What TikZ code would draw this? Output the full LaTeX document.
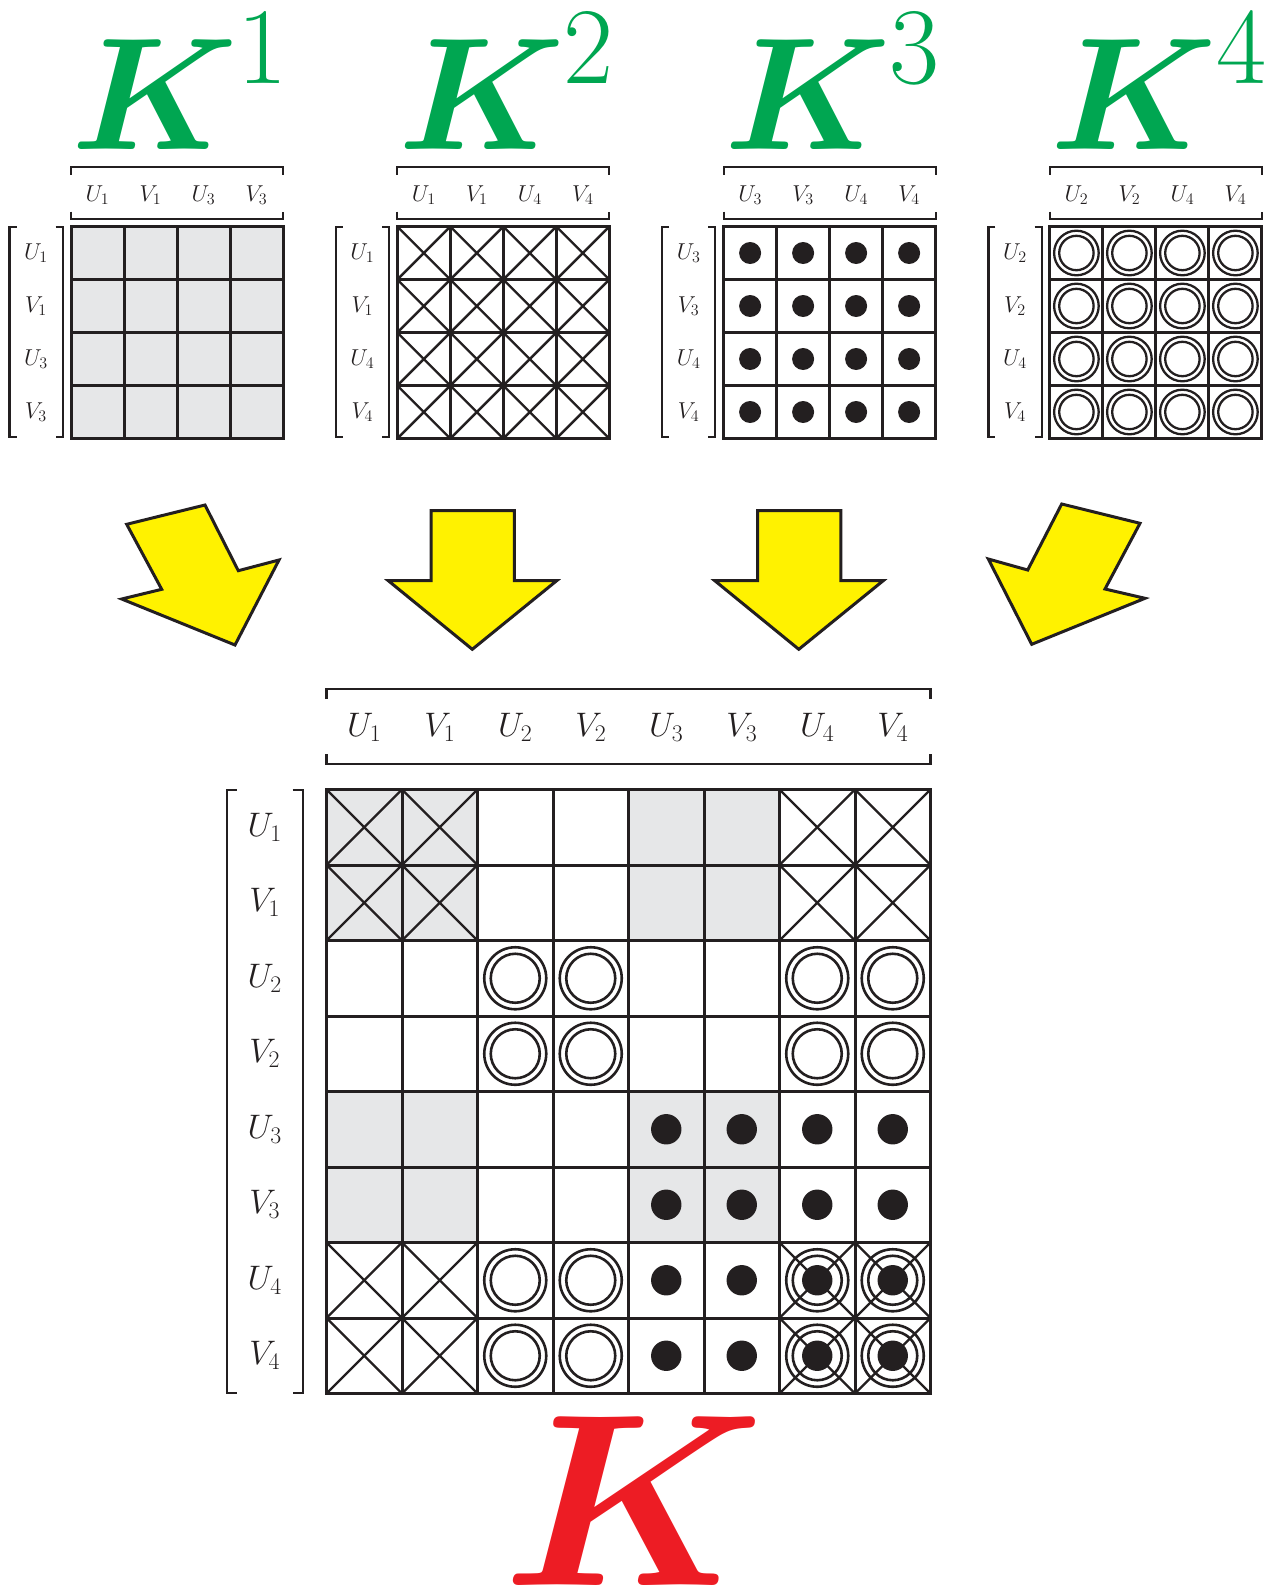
\RequirePackage{fix-cm}
\documentclass[tikz,border=0pt]{standalone}
\usepackage{amsmath}
\usepackage{bm}
\definecolor{kgreen}{RGB}{0,166,81}
\definecolor{kred}{RGB}{237,28,36}
\definecolor{kyellow}{RGB}{255,242,0}
\definecolor{kgray}{RGB}{230,231,232}
\definecolor{kblack}{RGB}{35,31,32}
\tikzset{
  gridline/.style={line width=3pt, draw=kblack, line cap=rect},
  xline/.style={line width=2.4pt, draw=kblack},
  ringline/.style={line width=2.6pt, draw=kblack},
  sringline/.style={line width=2.3pt, draw=kblack},
  dotfill/.style={fill=kblack},
  brak/.style={line width=2.2pt, draw=kblack},
  slab/.style={inner sep=0pt, text=kblack, font=\fontsize{23}{23}\selectfont},
  blab/.style={inner sep=0pt, text=kblack, font=\fontsize{34}{34}\selectfont},
  yarrow/.style={fill=kyellow, draw=kblack, line width=3pt, line join=miter},
  heading/.style={inner sep=0pt, text=kgreen, font=\fontsize{160}{160}\selectfont},
}
\newcommand\kheading[1]{$\boldsymbol{K}$\kern -1pt\raisebox{66pt}{\fontsize{109}{109}\selectfont #1}}
\begin{document}
\begin{tikzpicture}[x=1pt,y=-1pt]
\useasboundingbox (0,0) rectangle (1270,1596);

% ---------- small matrices ----------
\foreach \k/\la/\lb/\lc/\ld in {1/U_1/V_1/U_3/V_3, 2/U_1/V_1/U_4/V_4, 3/U_3/V_3/U_4/V_4, 4/U_2/V_2/U_4/V_4}{
  \pgfmathsetmacro\L{71+326.3*(\k-1)}
  % content
  \ifcase\k\or
    \fill[kgray] (\L,226.5) rectangle ++(212,212);
  \or
    \foreach \i in {0,...,3}{\foreach \j in {0,...,3}{
      \draw[xline] (\L+\j*53,226.5+\i*53) -- ++(53,53);
      \draw[xline] (\L+\j*53+53,226.5+\i*53) -- ++(-53,53);
    }}
  \or
    \foreach \i in {0,...,3}{\foreach \j in {0,...,3}{
      \fill[dotfill] (\L+\j*53+26.5,226.5+\i*53+26.5) circle[radius=11pt];
    }}
  \or
    \foreach \i in {0,...,3}{\foreach \j in {0,...,3}{
      \draw[sringline] (\L+\j*53+26.5,226.5+\i*53+26.5) circle[radius=22.3pt];
      \draw[sringline] (\L+\j*53+26.5,226.5+\i*53+26.5) circle[radius=17.2pt];
    }}
  \fi
  % grid
  \foreach \t in {0,...,4}{
    \draw[gridline] (\L+\t*53,226.5) -- (\L+\t*53,438.5);
    \draw[gridline] (\L,226.5+\t*53) -- (\L+212,226.5+\t*53);
  }
  % column bracket
  \draw[brak] (\L,174.5) -- (\L,166.7) -- (\L+212,166.7) -- (\L+212,174.5);
  \draw[brak] (\L,211.5) -- (\L,219.3) -- (\L+212,219.3) -- (\L+212,211.5);
  % row bracket
  \draw[brak] (\L-54.5,226.7) -- (\L-61.5,226.7) -- (\L-61.5,436.7) -- (\L-54.5,436.7);
  \draw[brak] (\L-15.3,226.7) -- (\L-8.3,226.7) -- (\L-8.3,436.7) -- (\L-15.3,436.7);
  % labels
  \node[slab] (k\k-c1) at (\L+26.5,195) {$\la$};
  \node[slab] (k\k-c2) at (\L+79.5,195) {$\lb$};
  \node[slab] (k\k-c3) at (\L+132.5,195) {$\lc$};
  \node[slab] (k\k-c4) at (\L+185.5,195) {$\ld$};
  \node[slab] (k\k-r1) at (\L-35,253) {$\la$};
  \node[slab] (k\k-r2) at (\L-35,306) {$\lb$};
  \node[slab] (k\k-r3) at (\L-35,359) {$\lc$};
  \node[slab] (k\k-r4) at (\L-35,412) {$\ld$};
  % heading
  \node[heading, anchor=base west] (h\k) at (\L+0.5,149) {\kheading{\k}};
}

% ---------- arrows ----------
\draw[yarrow] (126.7,524.3) -- (205,505) -- (238.3,570.7) -- (279,560) -- (235,645) -- (121.7,599) -- (161.7,589.3) -- cycle;
\draw[yarrow] (431,510.7) -- (514.3,510.7) -- (514.3,580.7) -- (556.7,580.7) -- (472.3,649.3) -- (388.3,580.7) -- (431,580.7) -- cycle;
\draw[yarrow] (757.5,510.7) -- (840.8,510.7) -- (840.8,580.7) -- (883.2,580.7) -- (798.8,649.3) -- (714.8,580.7) -- (757.5,580.7) -- cycle;
\draw[yarrow] (1061.7,504) -- (1140,523.3) -- (1105,589) -- (1145,598.3) -- (1031.7,644.3) -- (988.3,559) -- (1027.7,570) -- cycle;

% ---------- big matrix ----------
\def\BL{326.5}\def\BT{789.5}\def\BC{75.5}
\foreach \i in {1,2,5,6}{\foreach \j in {1,2,5,6}{
  \fill[kgray] (\BL+\j*\BC-\BC,\BT+\i*\BC-\BC) rectangle ++(\BC,\BC);
}}
\foreach \i in {1,2,7,8}{\foreach \j in {1,2,7,8}{
  \draw[xline] (\BL+\j*\BC-\BC,\BT+\i*\BC-\BC) -- ++(\BC,\BC);
  \draw[xline] (\BL+\j*\BC,\BT+\i*\BC-\BC) -- ++(-\BC,\BC);
}}
\foreach \i in {3,4,7,8}{\foreach \j in {3,4,7,8}{
  \draw[ringline] (\BL+\j*\BC-\BC/2,\BT+\i*\BC-\BC/2) circle[radius=31pt];
  \draw[ringline] (\BL+\j*\BC-\BC/2,\BT+\i*\BC-\BC/2) circle[radius=24.5pt];
}}
\foreach \i in {5,6,7,8}{\foreach \j in {5,6,7,8}{
  \fill[dotfill] (\BL+\j*\BC-\BC/2,\BT+\i*\BC-\BC/2) circle[radius=15.2pt];
}}
\foreach \t in {0,...,8}{
  \draw[gridline] (\BL+\t*\BC,\BT) -- (\BL+\t*\BC,\BT+8*\BC);
  \draw[gridline] (\BL,\BT+\t*\BC) -- (\BL+8*\BC,\BT+\t*\BC);
}
% big brackets
\draw[brak] (326.5,699) -- (326.5,689) -- (930.5,689) -- (930.5,699);
\draw[brak] (326.5,754) -- (326.5,764) -- (930.5,764) -- (930.5,754);
\draw[brak] (236.7,790) -- (226.7,790) -- (226.7,1393) -- (236.7,1393);
\draw[brak] (292.7,790) -- (302.7,790) -- (302.7,1393) -- (292.7,1393);
% big labels
\foreach \n/\t in {1/U_1,2/V_1,3/U_2,4/V_2,5/U_3,6/V_3,7/U_4,8/V_4}{
  \node[blab] (bc\n) at (\BL+\n*\BC-\BC/2,727) {$\t$};
  \node[blab] (br\n) at (264.7,\BT+\n*\BC-\BC/2) {$\t$};
}
% red K
\node[inner sep=0pt, text=kred, font=\fontsize{246}{246}\selectfont, anchor=base] (K) at (633.5,1585) {\scalebox{1.025}[1]{$\boldsymbol{K}$}};
\end{tikzpicture}
\end{document}
